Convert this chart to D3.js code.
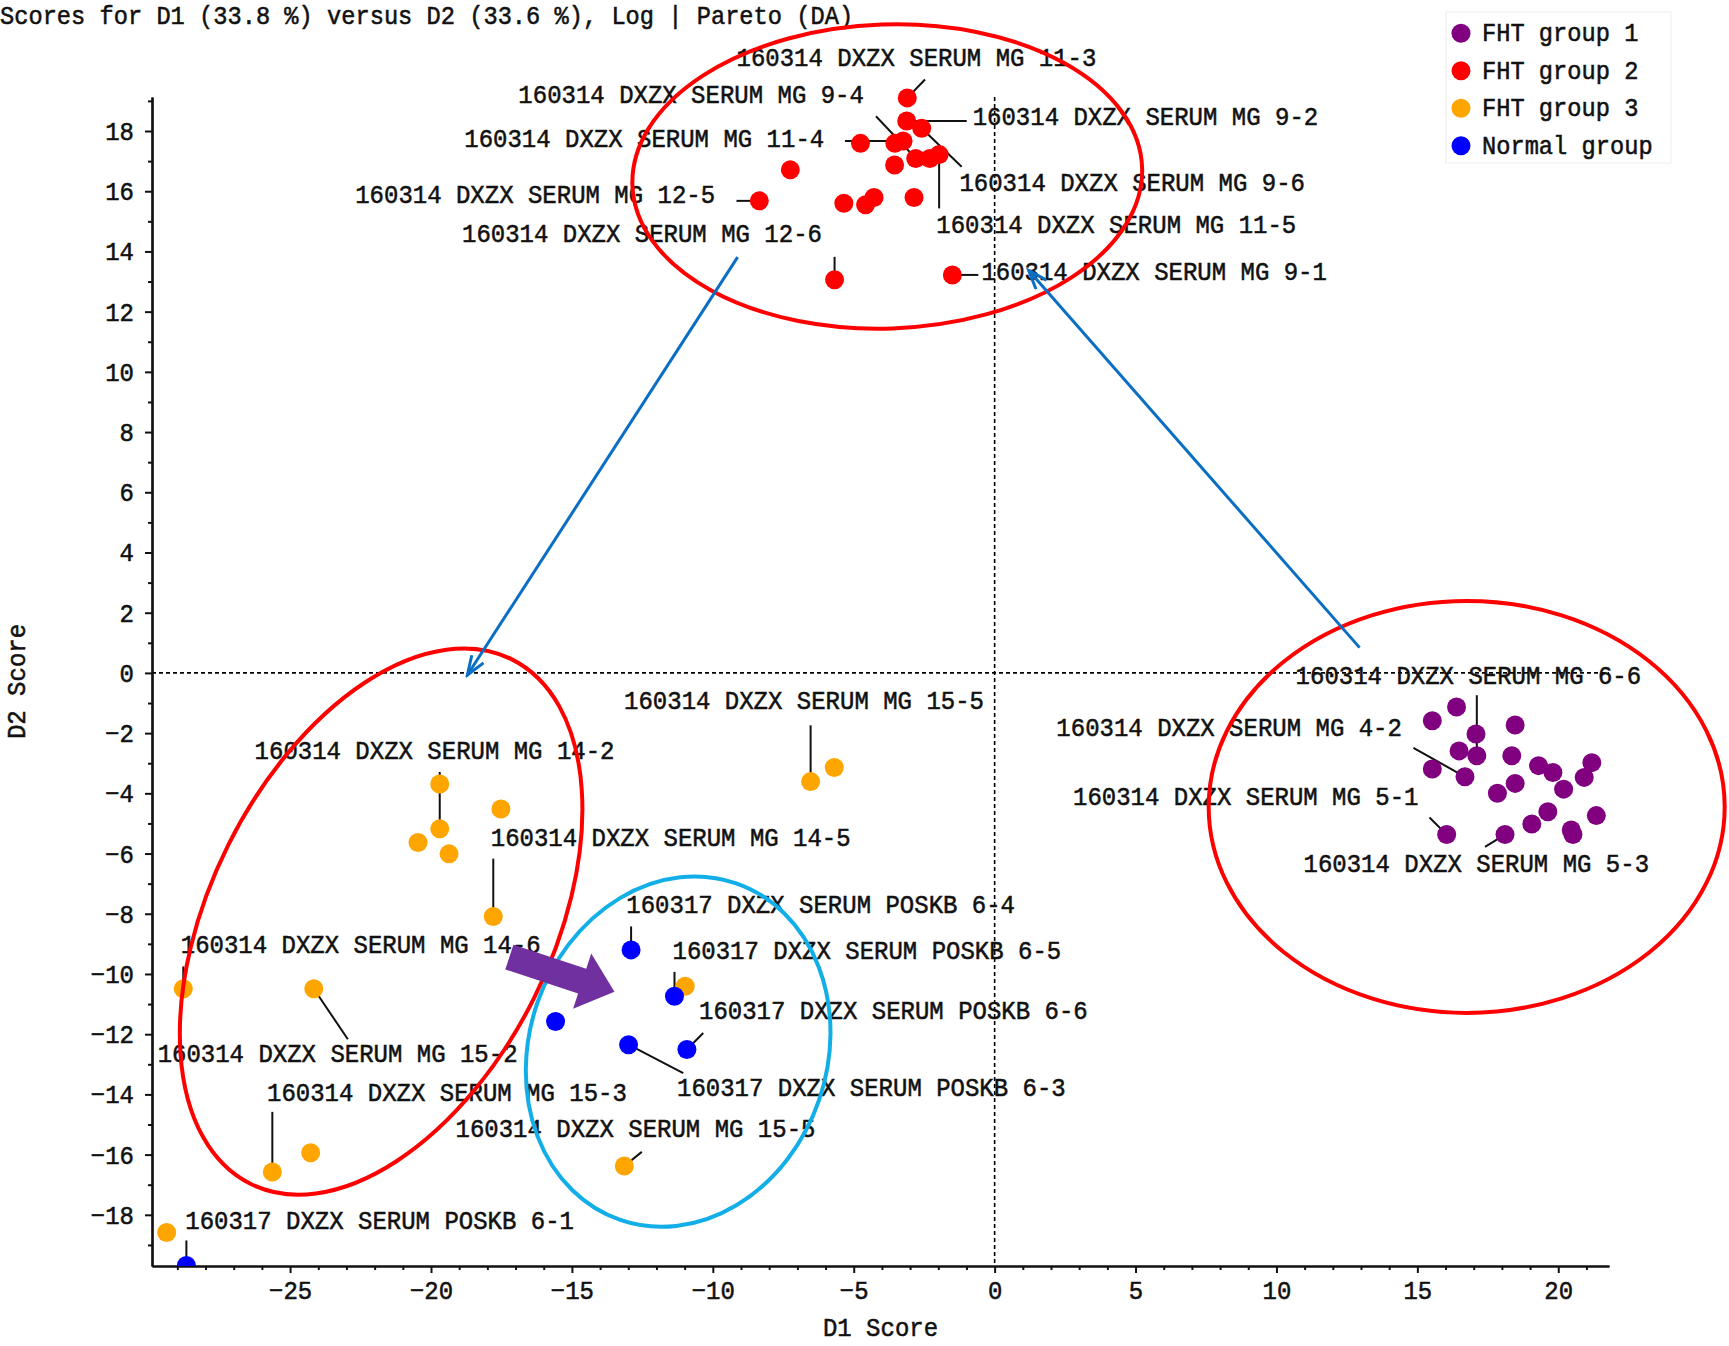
<!DOCTYPE html>
<html lang="en">
<head>
<meta charset="UTF-8">
<script src="https://d3js.org/d3.v7.min.js"></script>
<title>Scores D1 vs D2</title>
<style>
    body { margin: 0; overflow: hidden; background: #fff; }
    text { font-family: "Liberation Mono", monospace; font-size: 24px; fill: #111; stroke: #111; stroke-width: 0.5px; }
</style>
</head>
<body>
<script>
// ---- data ----
const title = "Scores for D1 (33.8 %) versus D2 (33.6 %), Log | Pareto (DA)";
const groupNames = ["FHT group 1", "FHT group 2", "FHT group 3", "Normal group"];

const group1 = [ // purple
    [16.39, -1.13], [15.53, -1.59], [18.47, -1.73], [17.08, -2.03], [16.48, -2.59],
    [17.11, -2.75], [18.35, -2.75], [15.53, -3.19], [16.69, -3.45], [19.30, -3.08],
    [19.81, -3.31], [21.19, -2.98], [20.92, -3.47], [20.19, -3.86], [18.47, -3.67],
    [17.84, -4.00], [19.63, -4.61], [19.06, -5.02], [21.35, -4.74], [20.46, -5.22],
    [20.52, -5.37], [16.04, -5.37], [18.11, -5.37]
];
const group2 = [ // red
    [-3.10, 19.10], [-3.12, 18.33], [-2.59, 18.09], [-4.76, 17.59], [-3.54, 17.59],
    [-3.25, 17.67], [-2.80, 17.09], [-2.30, 17.09], [-1.97, 17.22], [-3.55, 16.87],
    [-7.25, 16.71], [-8.35, 15.68], [-5.35, 15.60], [-4.58, 15.55], [-4.28, 15.79],
    [-2.86, 15.79], [-5.68, 13.06], [-1.50, 13.22]
];
const group3 = [ // orange
    [-19.69, -3.69], [-17.52, -4.52], [-19.69, -5.18], [-20.46, -5.63], [-19.36, -6.01],
    [-17.79, -8.09], [-28.79, -10.49], [-24.16, -10.49], [-6.53, -3.61], [-5.69, -3.14],
    [-10.98, -10.41], [-25.63, -16.58], [-24.27, -15.94], [-29.38, -18.59], [-13.14, -16.38]
];
const normal = [ // blue
    [-12.90, -9.20], [-11.36, -10.74], [-15.58, -11.58], [-12.99, -12.35],
    [-10.92, -12.51], [-28.68, -19.68]
];

const xTicks = [-25, -20, -15, -10, -5, 0, 5, 10, 15, 20];
const yTicks = [-18, -16, -14, -12, -10, -8, -6, -4, -2, 0, 2, 4, 6, 8, 10, 12, 14, 16, 18];
const xDomain = [-29.9, 21.8];
const yDomain = [-19.7, 19.13];

// sample labels: g = group index, i = point index, at = text spot, lead = leader end (score units)
const labels = [
    { text: "160314 DXZX SERUM MG 11-3", g: 1, i: 0,  at: [-9.16, 20.15],  lead: [-2.47, 19.71] },
    { text: "160314 DXZX SERUM MG 9-4",  g: 1, i: 6,  at: [-16.90, 18.94], lead: [-4.21, 18.49] },
    { text: "160314 DXZX SERUM MG 9-2",  g: 1, i: 1,  at: [-0.78, 18.20],  lead: [-0.99, 18.33] },
    { text: "160314 DXZX SERUM MG 11-4", g: 1, i: 5,  at: [-18.82, 17.47], lead: [-5.31, 17.67] },
    { text: "160314 DXZX SERUM MG 9-6",  g: 1, i: 2,  at: [-1.25, 16.01],  lead: [-1.17, 16.81] },
    { text: "160314 DXZX SERUM MG 12-5", g: 1, i: 11, at: [-22.69, 15.60], lead: [-9.16, 15.68] },
    { text: "160314 DXZX SERUM MG 11-5", g: 1, i: 8,  at: [-2.07, 14.61],  lead: [-1.97, 15.43] },
    { text: "160314 DXZX SERUM MG 12-6", g: 1, i: 16, at: [-18.90, 14.32], lead: [-5.68, 13.82] },
    { text: "160314 DXZX SERUM MG 9-1",  g: 1, i: 17, at: [-0.47, 13.04],  lead: [-0.58, 13.22] },
    { text: "160314 DXZX SERUM MG 14-2", g: 2, i: 2,  at: [-26.26, -2.86], lead: [-19.69, -3.29] },
    { text: "160314 DXZX SERUM MG 15-5", g: 2, i: 8,  at: [-13.15, -1.21], lead: [-6.53, -1.74] },
    { text: "160314 DXZX SERUM MG 14-5", g: 2, i: 5,  at: [-17.88, -5.76], lead: [-17.79, -6.17] },
    { text: "160314 DXZX SERUM MG 14-6", g: 2, i: 6,  at: [-28.88, -9.31], lead: [-28.79, -9.75] },
    { text: "160314 DXZX SERUM MG 15-2", g: 2, i: 7,  at: [-29.70, -12.94], lead: [-22.95, -12.17] },
    { text: "160314 DXZX SERUM MG 15-3", g: 2, i: 11, at: [-25.82, -14.22], lead: [-25.63, -14.58] },
    { text: "160314 DXZX SERUM MG 15-5", g: 2, i: 14, at: [-19.13, -15.43], lead: [-12.52, -15.91] },
    { text: "160317 DXZX SERUM POSKB 6-1", g: 3, i: 5, at: [-28.72, -18.47], lead: [-28.68, -18.85] },
    { text: "160317 DXZX SERUM POSKB 6-4", g: 3, i: 0, at: [-13.07, -7.99], lead: [-12.90, -8.42] },
    { text: "160317 DXZX SERUM POSKB 6-5", g: 3, i: 1, at: [-11.43, -9.49], lead: [-11.36, -9.93] },
    { text: "160317 DXZX SERUM POSKB 6-6", g: 3, i: 4, at: [-10.49, -11.51], lead: [-10.34, -11.96] },
    { text: "160317 DXZX SERUM POSKB 6-3", g: 3, i: 3, at: [-11.27, -14.04], lead: [-11.05, -13.29] },
    { text: "160314 DXZX SERUM MG 6-6",  g: 0, i: 5,  at: [10.68, -0.37],  lead: [17.11, -0.74] },
    { text: "160314 DXZX SERUM MG 4-2",  g: 0, i: 8,  at: [2.19, -2.09],   lead: [14.86, -2.49] },
    { text: "160314 DXZX SERUM MG 5-1",  g: 0, i: 21, at: [2.78, -4.40],   lead: [15.43, -4.80] },
    { text: "160314 DXZX SERUM MG 5-3",  g: 0, i: 22, at: [10.96, -6.60],  lead: [17.40, -5.78] }
];

// hand-drawn annotations (centres / ends in score units)
const rings = [
    { c: [-3.81, 16.49],   rx: 255, ry: 152, rot: -2,   color: "#ff0000" },
    { c: [-21.77, -8.26],  rx: 171, ry: 293, rot: 26.5, color: "#ff0000" },
    { c: [16.75, -4.45],   rx: 258, ry: 206, rot: 0,    color: "#ff0000" },
    { c: [-11.23, -12.58], rx: 149, ry: 178, rot: 19,   color: "#12aee8" }
];
const arrows = [
    { from: [-9.12, 13.81], to: [-18.71, -0.07] },
    { from: [12.95, 0.84],  to: [1.21, 13.37] }
];
const bigArrow = { from: [-17.22, -9.44], to: [-13.49, -10.59] };

// ---- drawing ----
const width = 1729, height = 1346;
const margin = { top: 97, right: 120, bottom: 80, left: 152 };
const colors = ["#800080", "#ff0000", "#ffa500", "#0000ff"];
const groups = [group1, group2, group3, normal];

const svg = d3.select("body").append("svg")
    .attr("width", width)
    .attr("height", height);

const x = d3.scaleLinear().domain(xDomain).range([margin.left, width - margin.right]);
const y = d3.scaleLinear().domain(yDomain).range([height - margin.bottom, margin.top]);

const txt = (sel, s, px, py, anchor = "start", extra = "") =>
    sel.append("text")
        .attr("transform", `translate(${px},${py}) ${extra} scale(1,1.1)`)
        .attr("text-anchor", anchor)
        .text(s);

// only the bottom edge cuts points off (the blue one at the corner)
svg.append("defs").append("clipPath").attr("id", "plot")
    .append("rect")
    .attr("x", margin.left - 30).attr("y", 0)
    .attr("width", width - margin.left - margin.right + 60)
    .attr("height", height - margin.bottom);

// title
txt(svg, title, 0, 24).style("font-size", "23.7px");

// zero lines
svg.append("line")
    .attr("x1", x(0)).attr("x2", x(0))
    .attr("y1", y(yDomain[1])).attr("y2", y(yDomain[0]))
    .attr("stroke", "#000").attr("stroke-width", 1.6).attr("stroke-dasharray", "4,3");
svg.append("line")
    .attr("x1", x(xDomain[0])).attr("x2", x(xDomain[1]))
    .attr("y1", y(0)).attr("y2", y(0))
    .attr("stroke", "#000").attr("stroke-width", 1.6).attr("stroke-dasharray", "4,3");

// axes
const xMinor = d3.range(-29, 22, 1).filter(v => !xTicks.includes(v));
const yMinor = d3.range(-19, 20, 1).filter(v => !yTicks.includes(v));

svg.append("g")
    .attr("transform", `translate(0,${y.range()[0]})`)
    .call(d3.axisBottom(x).tickValues(xMinor).tickSize(4).tickSizeOuter(0).tickFormat(""));
const xAxisG = svg.append("g")
    .attr("transform", `translate(0,${y.range()[0]})`)
    .call(d3.axisBottom(x).tickValues(xTicks).tickSize(7).tickSizeOuter(0).tickPadding(6));
svg.append("g")
    .attr("transform", `translate(${x.range()[0]},0)`)
    .call(d3.axisLeft(y).tickValues(yMinor).tickSize(4).tickSizeOuter(0).tickFormat(""));
const yAxisG = svg.append("g")
    .attr("transform", `translate(${x.range()[0]},0)`)
    .call(d3.axisLeft(y).tickValues(yTicks).tickSize(7).tickSizeOuter(0).tickPadding(11));

svg.selectAll(".domain").attr("stroke", "#111").attr("stroke-width", 2.2);
svg.selectAll(".tick line").attr("stroke", "#111").attr("stroke-width", 2);
xAxisG.selectAll(".tick text").attr("transform", "scale(1,1.1)");
yAxisG.selectAll(".tick text").attr("transform", "scale(1,1.1)");

// axis titles
txt(svg, "D1 Score", (x.range()[0] + x.range()[1]) / 2, 1336, "middle");
txt(svg, "D2 Score", 25, (y.range()[0] + y.range()[1]) / 2, "middle", "rotate(-90)");

// leader lines
const leaders = svg.append("g").attr("stroke", "#111").attr("stroke-width", 2);
labels.forEach(l => {
    const p = groups[l.g][l.i];
    leaders.append("line")
        .attr("x1", x(p[0])).attr("y1", y(p[1]))
        .attr("x2", x(l.lead[0])).attr("y2", y(l.lead[1]));
});

// points
const pts = svg.append("g").attr("clip-path", "url(#plot)");
groups.forEach((g, gi) => {
    pts.selectAll(null)
        .data(g)
        .enter()
        .append("circle")
        .attr("cx", d => x(d[0]))
        .attr("cy", d => y(d[1]))
        .attr("r", 9.5)
        .attr("fill", colors[gi]);
});

// labels
const lab = svg.append("g");
labels.forEach(l => txt(lab, l.text, x(l.at[0]), y(l.at[1])));

// rings
rings.forEach(r => {
    svg.append("ellipse")
        .attr("transform", `translate(${x(r.c[0])},${y(r.c[1])}) rotate(${r.rot})`)
        .attr("rx", r.rx).attr("ry", r.ry)
        .attr("fill", "none")
        .attr("stroke", r.color)
        .attr("stroke-width", 4);
});

// blue arrows
svg.select("defs").append("marker")
    .attr("id", "head")
    .attr("markerUnits", "userSpaceOnUse")
    .attr("markerWidth", 24).attr("markerHeight", 16)
    .attr("refX", 21).attr("refY", 8)
    .attr("orient", "auto")
    .append("path")
    .attr("d", "M2,1 L21,8 L2,15")
    .attr("fill", "none")
    .attr("stroke", "#0a6ec4")
    .attr("stroke-width", 3);

arrows.forEach(a => {
    svg.append("line")
        .attr("x1", x(a.from[0])).attr("y1", y(a.from[1]))
        .attr("x2", x(a.to[0])).attr("y2", y(a.to[1]))
        .attr("stroke", "#0a6ec4")
        .attr("stroke-width", 3)
        .attr("marker-end", "url(#head)");
});

// purple block arrow
{
    const x0 = x(bigArrow.from[0]), y0 = y(bigArrow.from[1]);
    const x1 = x(bigArrow.to[0]), y1 = y(bigArrow.to[1]);
    const len = Math.hypot(x1 - x0, y1 - y0);
    const ang = Math.atan2(y1 - y0, x1 - x0) * 180 / Math.PI;
    const head = 34, shaft = 13, wing = 29;
    svg.append("path")
        .attr("transform", `translate(${x0},${y0}) rotate(${ang})`)
        .attr("d", `M0,${-shaft} L${len - head},${-shaft} L${len - head},${-wing} L${len},0 L${len - head},${wing} L${len - head},${shaft} L0,${shaft} Z`)
        .attr("fill", "#7030a0");
}

// legend
const legend = svg.append("g");
legend.append("rect")
    .attr("x", 1446).attr("y", 12).attr("width", 225).attr("height", 151)
    .attr("fill", "none").attr("stroke", "#eeeeee");
groupNames.forEach((name, i) => {
    const cy = 33.3 + i * 37.5;
    legend.append("circle").attr("cx", 1461).attr("cy", cy).attr("r", 9.5).attr("fill", colors[i]);
    txt(legend, name, 1482, cy + 8).style("font-size", "23.7px");
});
</script>
</body>
</html>
